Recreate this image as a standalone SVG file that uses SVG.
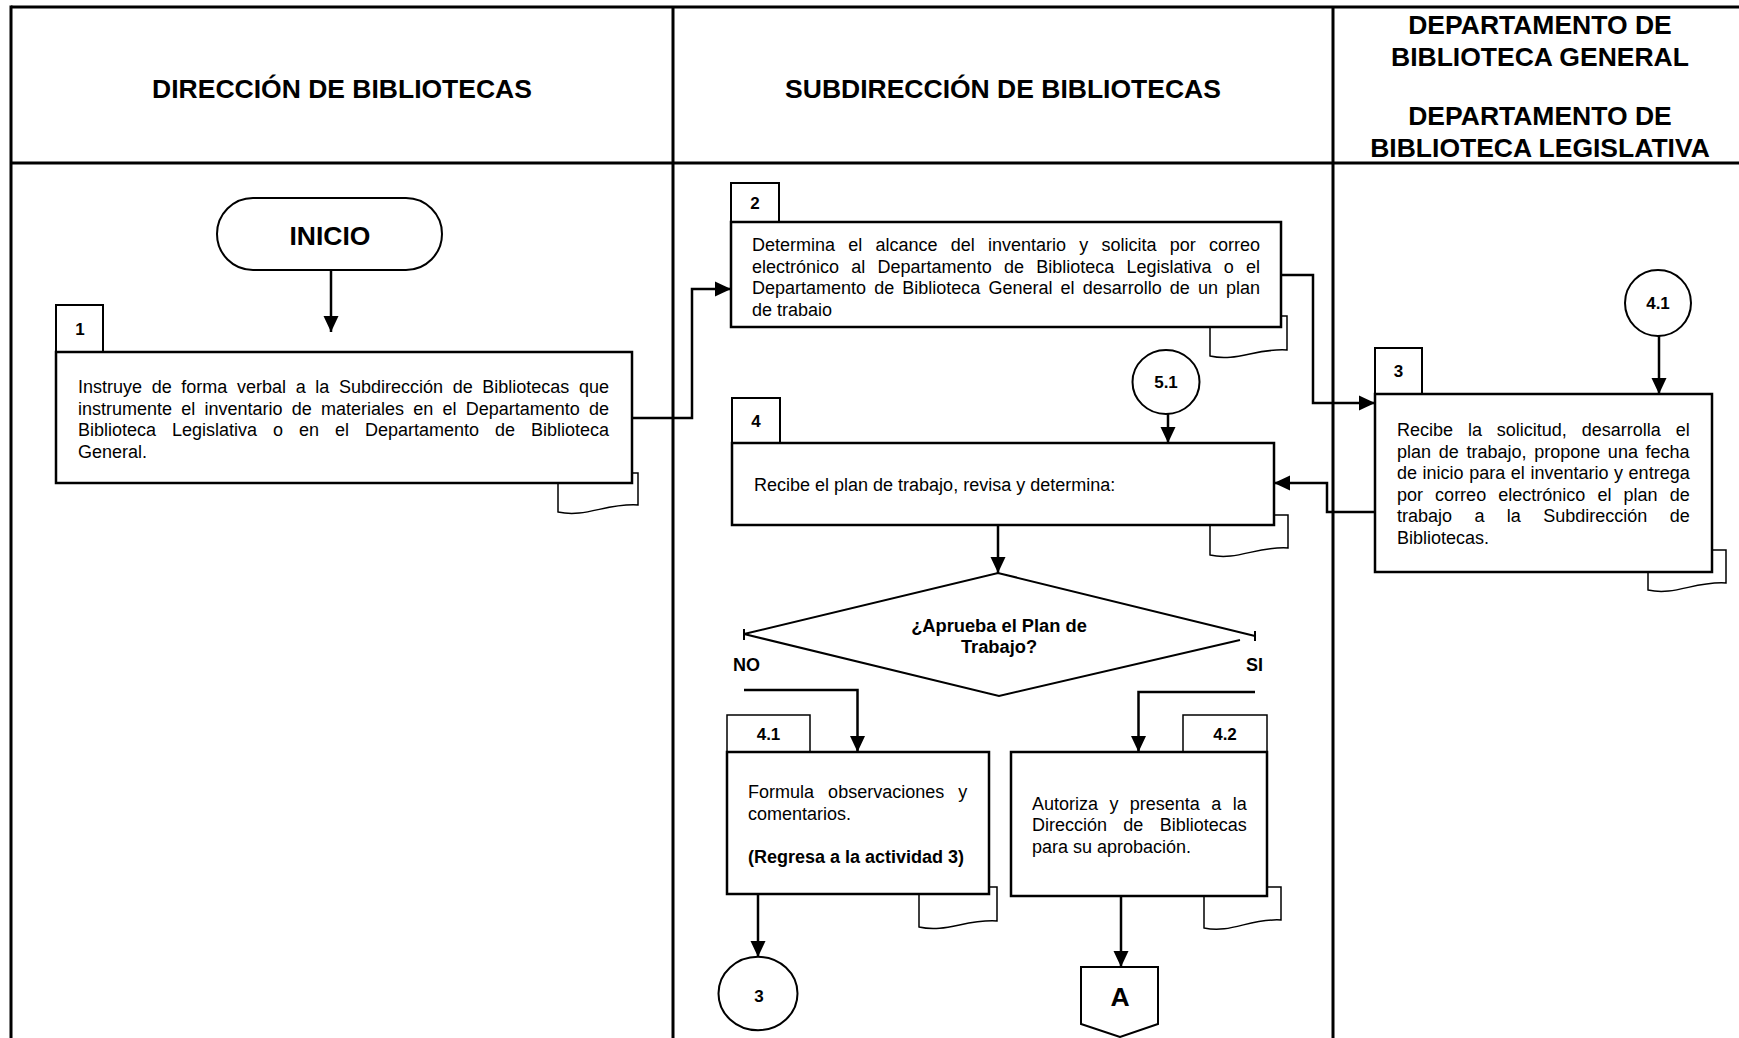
<svg xmlns="http://www.w3.org/2000/svg" width="1739" height="1038" viewBox="0 0 1739 1038">
<defs>
<style>
.frame{stroke:#000;stroke-width:3;fill:none}
.box{fill:#fff;stroke:#000;stroke-width:2.5}
.tab{fill:#fff;stroke:#000;stroke-width:2}
.tabt{fill:#fff;stroke:#000;stroke-width:1.5}
.doc{fill:#fff;stroke:#000;stroke-width:1.5}
.conn{fill:none;stroke:#000;stroke-width:2.5}
.shape{fill:#fff;stroke:#000;stroke-width:2}
.line{fill:none;stroke:#000;stroke-width:2}
text{font-family:"Liberation Sans",Arial,sans-serif;fill:#000}
.h{font-size:26.5px;font-weight:bold;text-anchor:middle}
.p{font-size:18px}
.pb{font-size:18px;font-weight:bold}
.n{font-size:17px;font-weight:bold;text-anchor:middle}
.d{font-size:18.3px;font-weight:bold;text-anchor:middle}
</style>
<marker id="ah" viewBox="0 0 16 16" refX="16" refY="8" markerWidth="16" markerHeight="16" markerUnits="userSpaceOnUse" orient="auto"><path d="M0,0.5 L16,8 L0,15.5 Z" fill="#000"/></marker>
</defs>
<rect width="1739" height="1038" fill="#fff"/>

<g id="frame" class="frame">
<line x1="11" y1="7" x2="1739" y2="7"/>
<line x1="11" y1="5.5" x2="11" y2="1038"/>
<line x1="11" y1="163" x2="1739" y2="163"/>
<line x1="673" y1="7" x2="673" y2="1038"/>
<line x1="1333" y1="7" x2="1333" y2="1038"/>
</g>

<g id="headers">
<text class="h" x="342" y="98">DIRECCIÓN DE BIBLIOTECAS</text>
<text class="h" x="1003" y="98">SUBDIRECCIÓN DE BIBLIOTECAS</text>
<text class="h" x="1540" y="34">DEPARTAMENTO DE</text>
<text class="h" x="1540" y="66">BIBLIOTECA GENERAL</text>
<text class="h" x="1540" y="125">DEPARTAMENTO DE</text>
<text class="h" x="1540" y="157">BIBLIOTECA LEGISLATIVA</text>
</g>

<g id="connectors">
<path class="conn" d="M331,270 V332" marker-end="url(#ah)"/>
<path class="conn" d="M632,418 H692 V289 H731" marker-end="url(#ah)"/>
<path class="conn" d="M1281,275 H1313 V403 H1375" marker-end="url(#ah)"/>
<path class="conn" d="M1659,336 V394" marker-end="url(#ah)"/>
<path class="conn" d="M1375,512 H1327 V483 H1274" marker-end="url(#ah)"/>
<path class="conn" d="M1168,414 V443" marker-end="url(#ah)"/>
<path class="conn" d="M998,525 V573" marker-end="url(#ah)"/>
<path class="conn" d="M744,690 H857.5 V752" marker-end="url(#ah)"/>
<path class="conn" d="M1255,692 H1138.5 V752" marker-end="url(#ah)"/>
<path class="conn" d="M758,894 V957" marker-end="url(#ah)"/>
<path class="conn" d="M1121,896 V967" marker-end="url(#ah)"/>
</g>

<g id="inicio">
<rect class="shape" x="217" y="198" width="225" height="72" rx="36"/>
<text class="h" x="330" y="245">INICIO</text>
</g>

<g id="act1">
<path class="doc" d="M558,473 H638 V505 C606,503 586,518 558,512 Z"/>
<rect class="tab" x="56" y="305" width="47" height="47"/>
<rect class="box" x="56" y="352" width="576" height="131"/>
<text class="n" x="80" y="335">1</text>
<text class="p" x="78" y="393" word-spacing="4.64">Instruye de forma verbal a la Subdirección de Bibliotecas que</text>
<text class="p" x="78" y="414.5" word-spacing="4.22">instrumente el inventario de materiales en el Departamento de</text>
<text class="p" x="78" y="436" word-spacing="10.97">Biblioteca Legislativa o en el Departamento de Biblioteca</text>
<text class="p" x="78" y="457.5">General.</text>
</g>

<g id="act2">
<path class="doc" d="M1210,316 H1287 V350 C1256,348 1237,362 1210,356 Z"/>
<rect class="tab" x="731" y="183" width="48" height="39"/>
<rect class="box" x="731" y="222" width="550" height="105"/>
<text class="n" x="755" y="208.5">2</text>
<text class="p" x="752" y="251" word-spacing="8.23">Determina el alcance del inventario y solicita por correo</text>
<text class="p" x="752" y="272.5" word-spacing="7.26">electrónico al Departamento de Biblioteca Legislativa o el</text>
<text class="p" x="752" y="294" word-spacing="3.1">Departamento de Biblioteca General el desarrollo de un plan</text>
<text class="p" x="752" y="315.5">de trabaio</text>
</g>

<g id="conn41">
<circle class="shape" cx="1658" cy="303" r="33"/>
<text class="n" x="1658" y="309">4.1</text>
</g>

<g id="act3">
<path class="doc" d="M1648,550 H1726 V583 C1695,581 1675,596 1648,590 Z"/>
<rect class="tab" x="1375" y="348" width="47" height="46"/>
<rect class="box" x="1375" y="394" width="337" height="178"/>
<text class="n" x="1398.5" y="377">3</text>
<text class="p" x="1397" y="436" word-spacing="9.88">Recibe la solicitud, desarrolla el</text>
<text class="p" x="1397" y="457.5" word-spacing="2.68">plan de trabajo, propone una fecha</text>
<text class="p" x="1397" y="479" word-spacing="0.58">de inicio para el inventario y entrega</text>
<text class="p" x="1397" y="500.5" word-spacing="7.1">por correo electrónico el plan de</text>
<text class="p" x="1397" y="522" word-spacing="17.4">trabajo a la Subdirección de</text>
<text class="p" x="1397" y="543.5">Bibliotecas.</text>
</g>

<g id="conn51">
<ellipse class="shape" cx="1166" cy="382" rx="33.5" ry="32"/>
<text class="n" x="1166" y="388">5.1</text>
</g>

<g id="act4">
<path class="doc" d="M1210,515 H1288 V548 C1257,546 1237,561 1210,555 Z"/>
<rect class="tab" x="732" y="398" width="48" height="45"/>
<rect class="box" x="732" y="443" width="542" height="82"/>
<text class="n" x="756" y="426.5">4</text>
<text class="p" x="754" y="491">Recibe el plan de trabajo, revisa y determina:</text>
</g>

<g id="decision">
<path class="line" d="M1240,640 L999,696 L744,634 L998,573 L1255,636"/>
<path class="line" d="M744,629 V640 M1255,631 V641"/>
<text class="d" x="999" y="632">¿Aprueba el Plan de</text>
<text class="d" x="999" y="653">Trabajo?</text>
<text class="pb" x="733" y="671">NO</text>
<text class="pb" x="1246" y="671">SI</text>
</g>

<g id="act41">
<path class="doc" d="M919,887 H997 V921 C966,919 946,933 919,927 Z"/>
<rect class="tabt" x="727" y="715" width="83" height="37"/>
<rect class="box" x="727" y="752" width="262" height="142"/>
<text class="n" x="768.5" y="739.5">4.1</text>
<text class="p" x="748" y="798" word-spacing="9.1">Formula observaciones y</text>
<text class="p" x="748" y="819.5">comentarios.</text>
<text class="pb" x="748" y="863">(Regresa a la actividad 3)</text>
</g>

<g id="act42">
<path class="doc" d="M1204,887 H1281 V920 C1250,918 1231,934 1204,928 Z"/>
<rect class="tabt" x="1183" y="715" width="84" height="37"/>
<rect class="box" x="1011" y="752" width="256" height="144"/>
<text class="n" x="1225" y="739.5">4.2</text>
<text class="p" x="1032" y="809.5" word-spacing="6.4">Autoriza y presenta a la</text>
<text class="p" x="1032" y="831" word-spacing="11.3">Dirección de Bibliotecas</text>
<text class="p" x="1032" y="852.5">para su aprobación.</text>
</g>

<g id="conn3">
<ellipse class="shape" cx="758" cy="993.5" rx="39.5" ry="36.7"/>
<text class="n" x="759" y="1002">3</text>
</g>

<g id="offpageA">
<path class="shape" d="M1081,967 H1158 V1024 L1120,1037 L1081,1024 Z"/>
<text class="h" x="1120" y="1006">A</text>
</g>
</svg>
